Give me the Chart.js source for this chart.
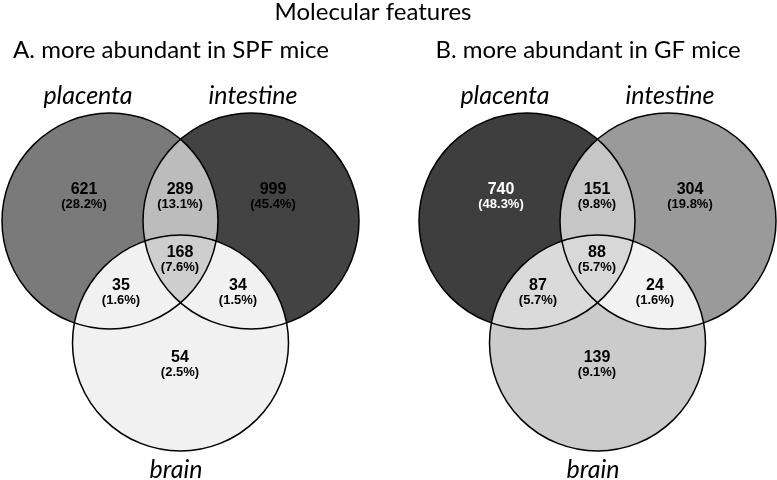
<!DOCTYPE html>
<html>
<head>
<meta charset="utf-8">
<script src="https://cdn.jsdelivr.net/npm/chart.js@4"></script>
<style>
  body { margin: 0; background: #fff; }
  #venn { display: block; }
</style>
</head>
<body>
<canvas id="venn" width="777" height="480"></canvas>
<script>
// datos
const tituloGeneral = "Molecular features";
const titulosPaneles = ["A. more abundant in SPF mice", "B. more abundant in GF mice"];
const conjuntos = ["placenta", "intestine", "brain"];
// orden de regiones: solo placenta, solo intestine, solo brain, P∩I, P∩B, I∩B, P∩I∩B
const regiones = ["placenta", "intestine", "brain", "placenta+intestine", "placenta+brain", "intestine+brain", "all"];
const conteosA = [621, 999, 54, 289, 35, 34, 168];
const porcentajesA = ["28.2%", "45.4%", "2.5%", "13.1%", "1.6%", "1.5%", "7.6%"];
const conteosB = [740, 304, 139, 151, 87, 24, 88];
const porcentajesB = ["48.3%", "19.8%", "9.1%", "9.8%", "5.7%", "1.6%", "5.7%"];

// estilos de cada panel (colores de región en el mismo orden)
const coloresA = ["#7a7a7a", "#434343", "#f1f1f1", "#bcbcbc", "#f1f1f1", "#f1f1f1", "#cecece"];
const coloresB = ["#3e3e3e", "#9a9a9a", "#cbcbcb", "#c6c6c6", "#dadada", "#f2f2f2", "#d8d8d8"];
const colorTextoB = ["#fff", "#000", "#000", "#000", "#000", "#000", "#000"];

// geometría (unidades de la escala)
const desplazamientos = [0, 417];
const radio = 108;
const centros = [[110, 221], [251, 221], [180.5, 343]];
const posEtiquetas = [[84, 190], [273, 190], [180, 358], [180, 190], [121, 286], [238, 286], [180, 253]];
const posNombres = [[88, 96], [253, 96], [176, 470]];

const paneles = [
    { conteos: conteosA, pct: porcentajesA, colores: coloresA, texto: coloresA.map(() => "#000") },
    { conteos: conteosB, pct: porcentajesB, colores: coloresB, texto: colorTextoB }
];

const ctxCanvas = document.querySelector("#venn");

function px(chart, x) { return chart.scales.x.getPixelForValue(x); }
function py(chart, y) { return chart.scales.y.getPixelForValue(y); }
function radioPx(chart) { return px(chart, radio) - px(chart, 0); }

function trazarCirculo(ctx, chart, dx, i) {
    ctx.beginPath();
    ctx.arc(px(chart, centros[i][0] + dx), py(chart, centros[i][1]), radioPx(chart), 0, Math.PI * 2);
}

const rellenoRegiones = {
    id: "rellenoRegiones",
    beforeDatasetsDraw(chart) {
        const ctx = chart.ctx;
        paneles.forEach((panel, p) => {
            const dx = desplazamientos[p];
            // regiones simples
            for (let i = 0; i < 3; i++) {
                ctx.save();
                trazarCirculo(ctx, chart, dx, i);
                ctx.fillStyle = panel.colores[i];
                ctx.fill();
                ctx.restore();
            }
            // intersecciones de dos
            const pares = [[0, 1, 3], [0, 2, 4], [1, 2, 5]];
            pares.forEach(([a, b, k]) => {
                ctx.save();
                trazarCirculo(ctx, chart, dx, a);
                ctx.clip();
                trazarCirculo(ctx, chart, dx, b);
                ctx.fillStyle = panel.colores[k];
                ctx.fill();
                ctx.restore();
            });
            // intersección triple
            ctx.save();
            trazarCirculo(ctx, chart, dx, 0);
            ctx.clip();
            trazarCirculo(ctx, chart, dx, 1);
            ctx.clip();
            trazarCirculo(ctx, chart, dx, 2);
            ctx.fillStyle = panel.colores[6];
            ctx.fill();
            ctx.restore();
        });
    },
    afterDatasetsDraw(chart) {
        const ctx = chart.ctx;
        ctx.save();
        ctx.textAlign = "center";
        ctx.textBaseline = "middle";
        ctx.fillStyle = "#000";
        ctx.font = '24px Lato, "Open Sans", sans-serif';
        ctx.fillText(tituloGeneral, px(chart, 373), py(chart, 12));
        paneles.forEach((panel, p) => {
            const dx = desplazamientos[p];
            ctx.fillStyle = "#000";
            ctx.font = '24px Lato, "Open Sans", sans-serif';
            ctx.fillText(titulosPaneles[p], px(chart, 171 + dx), py(chart, 50));
            ctx.font = 'italic 25px Lato, "Open Sans", sans-serif';
            conjuntos.forEach((nombre, i) => {
                ctx.fillText(nombre, px(chart, posNombres[i][0] + dx), py(chart, posNombres[i][1]));
            });
            regiones.forEach((r, k) => {
                const x = px(chart, posEtiquetas[k][0] + dx);
                const y = py(chart, posEtiquetas[k][1]);
                ctx.fillStyle = panel.texto[k];
                ctx.font = 'bold 16px "Liberation Sans", Arial, sans-serif';
                ctx.fillText(String(panel.conteos[k]), x, y);
                ctx.font = 'bold 13px "Liberation Sans", Arial, sans-serif';
                ctx.fillText("(" + panel.pct[k] + ")", x, y + 14);
            });
        });
        ctx.restore();
    }
};

const datasets = paneles.map((panel, p) => ({
    label: titulosPaneles[p],
    data: centros.map(c => ({ x: c[0] + desplazamientos[p], y: c[1], r: radio })),
    backgroundColor: "rgba(0,0,0,0)",
    borderColor: "#000",
    borderWidth: 1.5,
    clip: false
}));

new Chart(ctxCanvas, {
    type: "bubble",
    data: { datasets },
    options: {
        responsive: false,
        animation: false,
        events: [],
        layout: { padding: 0, autoPadding: false },
        plugins: { legend: { display: false }, tooltip: { enabled: false } },
        scales: {
            x: { type: "linear", min: 0, max: 777, display: false },
            y: { type: "linear", min: 0, max: 480, reverse: true, display: false }
        }
    },
    plugins: [rellenoRegiones]
});
</script>
</body>
</html>
